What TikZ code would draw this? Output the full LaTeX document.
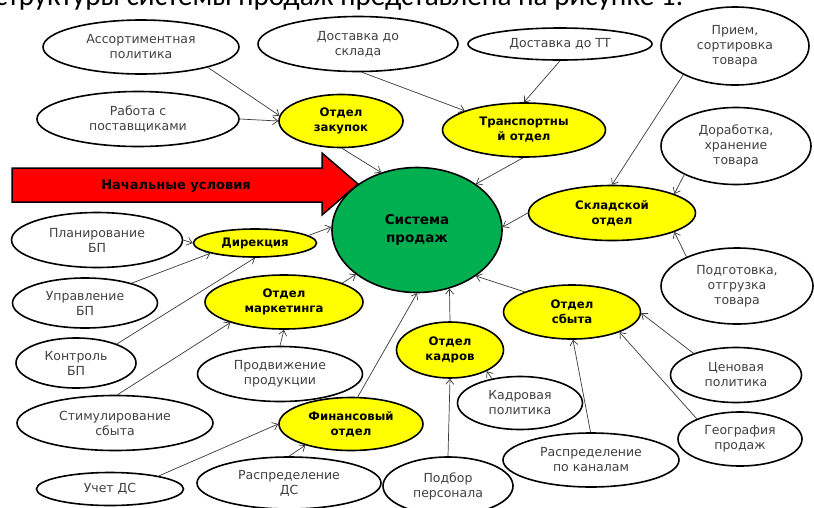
\documentclass[tikz,border=0pt]{standalone}
\usepackage{fontspec}
\setmainfont{DejaVu Sans}
\newfontfamily\calib{Carlito}
\usetikzlibrary{shapes.geometric,arrows.meta}
\definecolor{txtgray}{HTML}{404040}
\definecolor{conngray}{HTML}{3A3A3A}
\definecolor{sysgreen}{HTML}{00B050}
\definecolor{dyellow}{HTML}{FFFF00}
\tikzset{
  sz/.style 2 args={minimum width=#1pt, minimum height=#2pt},
  wnode/.style={ellipse, draw=black, line width=1.6pt, fill=white, text=txtgray,
    font=\fontsize{12.5}{15}\selectfont, align=center, inner sep=0pt},
  ynode/.style={ellipse, draw=black, line width=1.6pt, fill=dyellow, text=black,
    font=\bfseries\fontsize{11.7}{15}\selectfont, align=center, inner sep=0pt},
  conn/.style={draw=conngray, line width=0.7pt, -{Straight Barb[length=5pt,width=8pt]}},
}
\begin{document}
\begin{tikzpicture}[x=1pt,y=-1pt]
\path[use as bounding box] (0,0) rectangle (814,507);
\clip (0,0) rectangle (814,507);
\fill[white] (0,0) rectangle (814,507);

\node[anchor=base west, font=\calib\fontsize{29.2}{31}\selectfont, inner sep=0pt] (title) at (-5,5) {структуры системы продаж представлена на рисунке 1.};

% big red arrow
\draw[fill=red, line width=1.5pt, line join=miter]
  (12,168) -- (322,168) -- (322,153) -- (358,184) -- (322,215) -- (322,202) -- (12,202) -- cycle;
\node[font=\bfseries\fontsize{13}{15}\selectfont, inner sep=0pt] (nach) at (176,186) {Начальные условия};

% central node
\node[ellipse, draw=black, line width=1.6pt, fill=sysgreen, sz={170}{125}, align=center, inner sep=0pt,
  font=\bfseries\fontsize{13.5}{18}\selectfont] (sys) at (417,230) {Система\\продаж};

% yellow departments
\node[ynode, sz={124}{53}] (zak) at (341,121) {Отдел\\закупок};
\node[ynode, sz={163}{54}] (trans) at (524,130) {Транспортны\\й отдел};
\node[ynode, sz={167}{55}] (sklad) at (612,213) {Складской\\отдел};
\node[ynode, sz={123}{28}] (dir) at (255,243) {Дирекция};
\node[ynode, sz={158}{54}] (mark) at (284,302) {Отдел\\маркетинга};
\node[ynode, sz={144}{53}] (fin) at (351,424) {Финансовый\\отдел};
\node[ynode, sz={107}{56}] (kadry) at (450,350) {Отдел\\кадров};
\node[ynode, sz={137}{54}] (sbyt) at (572,312) {Отдел\\сбыта};

% white factor nodes
\node[wnode, sz={196}{54}] (assort) at (141,47) {Ассортиментная\\политика};
\node[wnode, sz={202}{55}] (rabota) at (138,119) {Работа с\\поставщиками};
\node[wnode, sz={200}{55}] (dsklad) at (358,44) {Доставка до\\склада};
\node[wnode, sz={184}{32}] (dtt) at (560,44) {Доставка до ТТ};
\node[wnode, sz={148}{78}] (priem) at (735,46) {Прием,\\сортировка\\товара};
\node[wnode, sz={150}{77}] (dorab) at (736,146) {Доработка,\\хранение\\товара};
\node[wnode, sz={171}{55}] (plan) at (97,240) {Планирование\\БП};
\node[wnode, sz={145}{50}] (uprav) at (85,303) {Управление\\БП};
\node[wnode, sz={120}{50}] (kontr) at (76,363) {Контроль\\БП};
\node[wnode, sz={165}{55}] (prodv) at (280,374) {Продвижение\\продукции};
\node[wnode, sz={196}{55}] (stim) at (115,423) {Стимулирование\\сбыта};
\node[wnode, sz={147}{33}] (uchet) at (110,489) {Учет ДС};
\node[wnode, sz={184}{52}] (raspds) at (289,483) {Распределение\\ДС};
\node[wnode, sz={130}{58}] (podbor) at (448,486) {Подбор\\персонала};
\node[wnode, sz={125}{53}] (kadpol) at (520,403) {Кадровая\\политика};
\node[wnode, sz={152}{76}] (podgot) at (737,286) {Подготовка,\\отгрузка\\товара};
\node[wnode, sz={131}{55}] (cenov) at (736,375) {Ценовая\\политика};
\node[wnode, sz={124}{54}] (geogr) at (740,439) {География\\продаж};
\node[wnode, sz={176}{54}] (raspkan) at (591,460) {Распределение\\по каналам};

% connectors
\draw[conn] (assort.-17) -- (zak.175);
\draw[conn] (rabota.east) -- (zak.west);
\draw[conn] (zak.-88) -- (sys.122);
\draw[conn] (dsklad.-82) -- (trans.162);
\draw[conn] (dtt.south) -- (trans.north);
\draw[conn] (trans.-92) -- (sys.38);
\draw[conn] (priem.-151) -- (sklad.north);
\draw[conn] (dorab.-151) -- (sklad.17);
\draw[conn] (sklad.west) -- (sys.2);
\draw[conn] (podgot.150) -- (sklad.-17);
\draw[conn] (sbyt.157) -- (sys.-38);
\draw[conn] (cenov.153) -- (sbyt.-1);
\draw[conn] (geogr.155) -- (sbyt.-23);
\draw[conn] (raspkan.91) -- (sbyt.-88);
\draw[conn] (kadpol.139) -- (kadry.-30);
\draw[conn] (kadry.north) -- (sys.-61);
\draw[conn] (podbor.north) -- (kadry.south);
\draw[conn] (fin.76) -- (sys.south);
\draw[conn] (raspds.north) -- (fin.-155);
\draw[conn] (uchet.15) -- (fin.west);
\draw[conn] (stim.85) -- (mark.-159);
\draw[conn] (prodv.north) -- (mark.south);
\draw[conn] (kontr.25) -- (dir.-90);
\draw[conn] (uprav.23) -- (dir.-167);
\draw[conn] (plan.east) -- (dir.west);
\draw[conn] (dir.8) -- (sys.178);
\draw[conn] (mark.18) -- (sys.-144);
\end{tikzpicture}
\end{document}
